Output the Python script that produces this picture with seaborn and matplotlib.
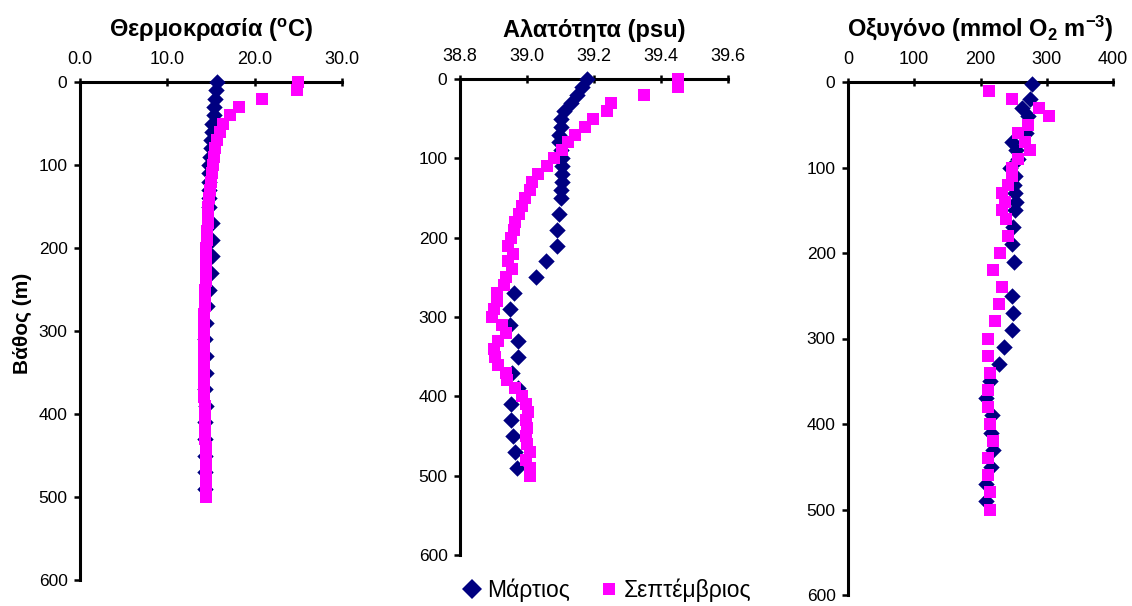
import matplotlib
matplotlib.use("Agg")
import matplotlib.pyplot as plt
import numpy as np
import pandas as pd
import seaborn as sns
from matplotlib.lines import Line2D

# ---------------- data ----------------
# Temperature (°C)
temp_mar_depth = [0, 10, 20, 30, 40, 50, 60, 70, 80, 90, 100, 110, 120, 130, 140, 150,
                  170, 190, 210, 230, 250, 270, 290, 310, 330, 350, 370, 390, 410, 430,
                  450, 470, 490]
temp_mar = [15.7, 15.55, 15.45, 15.4, 15.3, 15.15, 15.1, 15.0, 14.95, 14.85, 14.8, 14.8,
            14.8, 14.8, 14.8, 14.8, 15.1, 15.1, 15.1, 15.0, 14.8, 14.5, 14.4, 14.3, 14.4,
            14.4, 14.3, 14.4, 14.3, 14.3, 14.3, 14.3, 14.3]
temp_sep_depth = [0, 10, 20, 30, 40, 50, 60, 70, 80, 90, 100, 110, 120, 130, 140, 150,
                  160, 170, 180, 190, 200, 210, 220, 230, 240, 250, 260, 270, 280, 290,
                  300, 310, 320, 330, 340, 350, 360, 370, 380, 390, 400, 410, 420, 430,
                  440, 450, 460, 470, 480, 490, 500]
temp_sep = [25.0, 24.9, 20.8, 18.2, 17.2, 16.4, 16.0, 15.7, 15.5, 15.3, 15.2, 15.1, 15.0,
            14.9, 14.8, 14.7, 14.6, 14.6, 14.5, 14.5, 14.4, 14.4, 14.4, 14.4, 14.4, 14.3,
            14.3, 14.3, 14.2, 14.2, 14.2, 14.2, 14.2, 14.2, 14.2, 14.2, 14.2, 14.2, 14.2,
            14.3, 14.3, 14.3, 14.3, 14.3, 14.4, 14.4, 14.4, 14.4, 14.4, 14.4, 14.4]

# Salinity (psu)
sal_mar_depth = [0, 10, 20, 30, 40, 50, 60, 70, 80, 90, 100, 110, 120, 130, 140, 150,
                 170, 190, 210, 230, 250, 270, 290, 310, 330, 350, 370, 390, 410, 430,
                 450, 470, 490]
sal_mar = [39.18, 39.165, 39.148, 39.13, 39.11, 39.10, 39.10, 39.097, 39.097, 39.10,
           39.105, 39.105, 39.105, 39.105, 39.102, 39.10, 39.096, 39.09, 39.09, 39.056,
           39.027, 38.96, 38.95, 38.95, 38.974, 38.974, 38.954, 38.974, 38.951, 38.953,
           38.957, 38.964, 38.971]
sal_sep_depth = [0, 10, 20, 30, 40, 50, 60, 70, 80, 90, 100, 110, 120, 130, 140, 150,
                 160, 170, 180, 190, 200, 210, 220, 230, 240, 250, 260, 270, 280, 290,
                 300, 310, 320, 330, 340, 350, 360, 370, 380, 390, 400, 410, 420, 430,
                 440, 450, 460, 470, 480, 490, 500]
sal_sep = [39.45, 39.45, 39.35, 39.25, 39.24, 39.196, 39.173, 39.143, 39.123, 39.105,
           39.082, 39.059, 39.034, 39.014, 39.009, 38.994, 38.984, 38.977, 38.964, 38.961,
           38.952, 38.944, 38.959, 38.944, 38.954, 38.937, 38.931, 38.91, 38.91, 38.902,
           38.895, 38.924, 38.937, 38.912, 38.902, 38.905, 38.914, 38.937, 38.941, 38.964,
           38.984, 38.997, 39.004, 38.997, 38.999, 38.997, 39.0, 39.009, 38.997, 39.009,
           39.009]

# Dissolved oxygen (mmol O2 m-3)
oxy_mar_depth = [2, 20, 30, 40, 60, 70, 80, 90, 100, 110, 120, 130, 140, 150, 170, 190,
                 210, 250, 270, 290, 310, 330, 350, 370, 390, 410, 430, 450, 470, 490]
oxy_mar = [278, 274, 262, 272, 268, 247, 253, 256, 244, 252, 250, 252, 254, 252, 249, 248,
           251, 248, 249, 248, 236, 228, 215, 209, 218, 216, 219, 216, 209, 209]
oxy_sep_depth = [10, 20, 30, 40, 50, 60, 70, 80, 90, 100, 110, 120, 130, 140, 150, 160,
                 180, 200, 220, 240, 260, 280, 300, 320, 340, 360, 380, 400, 420, 440,
                 460, 480, 500]
oxy_sep = [213, 247, 289, 303, 272, 257, 267, 274, 257, 248, 248, 241, 233, 237, 232, 238,
           242, 229, 219, 232, 228, 222, 212, 212, 214, 212, 212, 214, 219, 212, 212, 214,
           214]

month_labels = ["Μάρτιος", "Σεπτέμβριος"]
panel_titles = [r"Θερμοκρασία ($^{o}$C)", "Αλατότητα (psu)",
                r"Οξυγόνο (mmol O$_{2}$ m$^{-3}$)"]
depth_label = "Βάθος (m)"
depth_ticks = [0, 100, 200, 300, 400, 500, 600]

# ---------------- style ----------------
NAVY = "#000080"
MAGENTA = "#FF00FF"

sns.set_style("white")
plt.rcParams["font.family"] = ["Liberation Sans", "DejaVu Sans"]
plt.rcParams.update({
    "text.color": "black",
    "axes.labelcolor": "black",
    "xtick.color": "black",
    "ytick.color": "black",
    "mathtext.fontset": "custom",
    "mathtext.rm": "Liberation Sans:bold",
    "mathtext.it": "Liberation Sans:bold",
    "mathtext.bf": "Liberation Sans:bold",
    "mathtext.default": "bf",
})

W, H = 1132, 606
fig = plt.figure(figsize=(W / 100, H / 100), dpi=100)


def add_px_axes(x0, x1, y0, y1):
    return fig.add_axes([x0 / W, 1 - y1 / H, (x1 - x0) / W, (y1 - y0) / H])


panels = [
    dict(box=(80, 342, 82, 580), mar=(temp_mar, temp_mar_depth), sep=(temp_sep, temp_sep_depth),
         xlim=(0, 30), xticks=[0, 10, 20, 30], fmt="{:.1f}", title=panel_titles[0]),
    dict(box=(460, 728, 79, 555), mar=(sal_mar, sal_mar_depth), sep=(sal_sep, sal_sep_depth),
         xlim=(38.8, 39.6), xticks=[38.8, 39.0, 39.2, 39.4, 39.6], fmt="{:.1f}",
         title=panel_titles[1]),
    dict(box=(848, 1113, 82, 595), mar=(oxy_mar, oxy_mar_depth), sep=(oxy_sep, oxy_sep_depth),
         xlim=(0, 400), xticks=[0, 100, 200, 300, 400], fmt="{:.0f}", title=panel_titles[2]),
]

for i, p in enumerate(panels):
    x0, x1, y0, y1 = p["box"]
    ax = add_px_axes(x0, x1, y0, y1)
    df_m = pd.DataFrame({"value": p["mar"][0], "depth": p["mar"][1]})
    df_s = pd.DataFrame({"value": p["sep"][0], "depth": p["sep"][1]})
    sns.scatterplot(data=df_m, x="value", y="depth", marker="D", color=NAVY, s=70,
                    linewidth=0, ax=ax, legend=False, clip_on=False, zorder=3)
    sns.scatterplot(data=df_s, x="value", y="depth", marker="s", color=MAGENTA, s=78,
                    linewidth=0, ax=ax, legend=False, clip_on=False, zorder=4)

    ax.set_xlim(*p["xlim"])
    ax.set_ylim(600, 0)
    ax.set_xticks(p["xticks"])
    ax.set_xticklabels([p["fmt"].format(v) for v in p["xticks"]])
    ax.set_yticks(depth_ticks)
    ax.set_yticklabels([str(v) for v in depth_ticks])
    ax.set_xlabel("")
    ax.set_ylabel("")
    ax.set_facecolor("none")

    for side in ("right", "bottom"):
        ax.spines[side].set_visible(False)
    for side in ("left", "top"):
        ax.spines[side].set_visible(True)
        ax.spines[side].set_color("black")
        ax.spines[side].set_linewidth(2.2)

    ax.tick_params(axis="x", top=True, bottom=False, labeltop=True, labelbottom=False,
                   direction="inout", length=6, width=1.8, pad=7, labelsize=13,
                   colors="black")
    ax.tick_params(axis="y", left=True, right=False, direction="out", length=4,
                   width=1.8, pad=5, labelsize=12.5, colors="black")

    cx = (x0 + x1) / 2
    fig.text(cx / W, 1 - 37 / H, p["title"], ha="center", va="baseline",
             fontsize=17, fontweight="bold")

fig.text(22 / W, 1 - 323 / H, depth_label, rotation=90, ha="center", va="center",
         fontsize=15, fontweight="bold")

handles = [
    Line2D([], [], marker="D", color=NAVY, linestyle="none", markersize=10,
           markeredgewidth=0),
    Line2D([], [], marker="s", color=MAGENTA, linestyle="none", markersize=8.5,
           markeredgewidth=0),
]
fig.legend(handles, month_labels, loc="center", bbox_to_anchor=(606 / W, 1 - 590 / H),
           ncol=2, frameon=False, fontsize=16.5, handletextpad=0.15, columnspacing=1.2,
           handlelength=1.0)

fig.savefig("out.png", dpi=100)
